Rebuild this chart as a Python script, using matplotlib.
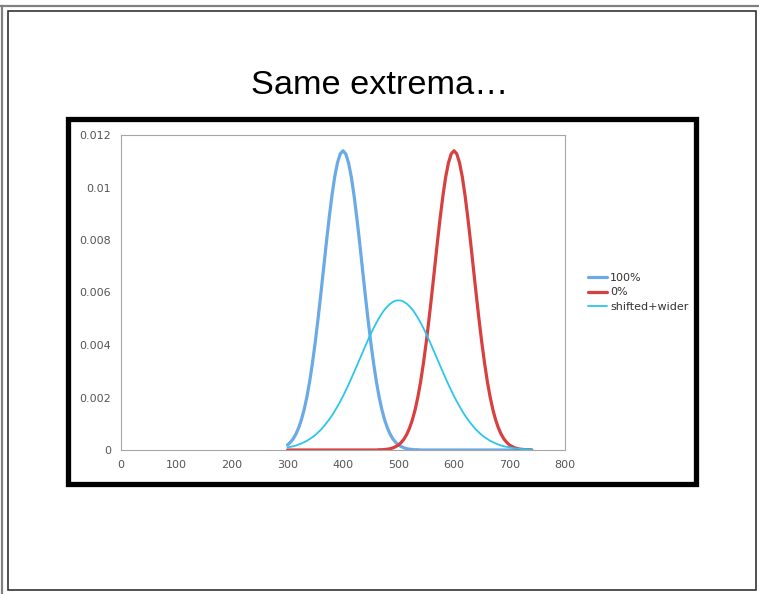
import matplotlib
matplotlib.use("Agg")
import matplotlib.pyplot as plt
from matplotlib.patches import Rectangle
from matplotlib.lines import Line2D

plt.rcParams['font.family'] = ['DejaVu Sans']

# ---- data ----
x_vals = list(range(300, 745, 5))

series_100 = [0.00019, 0.00029, 0.00042, 0.00060, 0.00084, 0.00115, 0.00154, 0.00203,
              0.00262, 0.00332, 0.00411, 0.00499, 0.00593, 0.00691, 0.00790, 0.00883,
              0.00968, 0.01040, 0.01094, 0.01128, 0.01140, 0.01128, 0.01094, 0.01040,
              0.00968, 0.00883, 0.00790, 0.00691, 0.00593, 0.00499, 0.00411, 0.00332,
              0.00262, 0.00203, 0.00154, 0.00115, 0.00084, 0.00060, 0.00042, 0.00029,
              0.00019, 0.00013, 0.00008, 0.00005, 0.00003, 0.00002, 0.00001, 0.00001,
              0.0, 0.0, 0.0, 0.0, 0.0, 0.0, 0.0, 0.0, 0.0, 0.0, 0.0, 0.0, 0.0, 0.0,
              0.0, 0.0, 0.0, 0.0, 0.0, 0.0, 0.0, 0.0, 0.0, 0.0, 0.0, 0.0, 0.0, 0.0,
              0.0, 0.0, 0.0, 0.0, 0.0, 0.0, 0.0, 0.0, 0.0, 0.0, 0.0, 0.0, 0.0]

series_0 = [0.0, 0.0, 0.0, 0.0, 0.0, 0.0, 0.0, 0.0, 0.0, 0.0, 0.0, 0.0, 0.0, 0.0,
            0.0, 0.0, 0.0, 0.0, 0.0, 0.0, 0.0, 0.0, 0.0, 0.0, 0.0, 0.0, 0.0, 0.0,
            0.0, 0.0, 0.0, 0.0, 0.0,
            0.00001, 0.00001, 0.00002, 0.00003, 0.00005, 0.00008, 0.00013, 0.00019,
            0.00029, 0.00042, 0.00060, 0.00084, 0.00115, 0.00154, 0.00203, 0.00262,
            0.00332, 0.00411, 0.00499, 0.00593, 0.00691, 0.00790, 0.00883, 0.00968,
            0.01040, 0.01094, 0.01128, 0.01140, 0.01128, 0.01094, 0.01040, 0.00968,
            0.00883, 0.00790, 0.00691, 0.00593, 0.00499, 0.00411, 0.00332, 0.00262,
            0.00203, 0.00154, 0.00115, 0.00084, 0.00060, 0.00042, 0.00029, 0.00019,
            0.00013, 0.00008, 0.00005, 0.00003, 0.00002, 0.00001, 0.00001, 0.0]

series_shift = [0.00010, 0.00012, 0.00014, 0.00017, 0.00021, 0.00025, 0.00030, 0.00035,
                0.00042, 0.00049, 0.00057, 0.00067, 0.00077, 0.00089, 0.00102, 0.00116,
                0.00131, 0.00148, 0.00166, 0.00185, 0.00205, 0.00227, 0.00249, 0.00273,
                0.00297, 0.00321, 0.00346, 0.00370, 0.00395, 0.00419, 0.00442, 0.00464,
                0.00484, 0.00503, 0.00520, 0.00535, 0.00547, 0.00557, 0.00564, 0.00569,
                0.00570, 0.00569, 0.00564, 0.00557, 0.00547, 0.00535, 0.00520, 0.00503,
                0.00484, 0.00464, 0.00442, 0.00419, 0.00395, 0.00370, 0.00346, 0.00321,
                0.00297, 0.00273, 0.00249, 0.00227, 0.00205, 0.00185, 0.00166, 0.00148,
                0.00131, 0.00116, 0.00102, 0.00089, 0.00077, 0.00067, 0.00057, 0.00049,
                0.00042, 0.00035, 0.00030, 0.00025, 0.00021, 0.00017, 0.00014, 0.00012,
                0.00010, 0.00008, 0.00006, 0.00005, 0.00004, 0.00003, 0.00003, 0.00002,
                0.00002]

labels = ["100%", "0%", "shifted+wider"]
x_ticks = [0, 100, 200, 300, 400, 500, 600, 700, 800]
y_ticks = [0, 0.002, 0.004, 0.006, 0.008, 0.01, 0.012]
y_tick_labels = ["0", "0.002", "0.004", "0.006", "0.008", "0.01", "0.012"]
title = "Same extrema\u2026"

W, H = 759, 594
fig = plt.figure(figsize=(W / 100, H / 100), dpi=100)
fig.patch.set_facecolor("white")

def fx(px):
    return px / W

def fy(py):
    return 1 - py / H

# slide borders
fig.add_artist(Line2D([fx(0), fx(759)], [fy(5.5), fy(5.5)], color="#808080", lw=1.6,
                      transform=fig.transFigure))
fig.add_artist(Line2D([fx(1.5), fx(1.5)], [fy(5.5), fy(594)], color="#808080", lw=1.6,
                      transform=fig.transFigure))
fig.add_artist(Rectangle((fx(7.5), fy(589.5)), fx(756.5) - fx(7.5), fy(10.5) - fy(589.5),
                         transform=fig.transFigure, fill=False, edgecolor="#222222", lw=1.1))

# title
fig.text(fx(380), fy(85), title, ha="center", va="center", fontsize=24.7,
         family="Liberation Sans", color="black")

# black chart box
fig.add_artist(Rectangle((fx(67.5), fy(483.5)), fx(695.5) - fx(67.5), fy(118.5) - fy(483.5),
                         transform=fig.transFigure, fill=False, edgecolor="black", lw=3.8))

ax = fig.add_axes([fx(121), fy(450), fx(565) - fx(121), fy(135) - fy(450)])
ax.plot(x_vals, series_100, color="#6aaae6", lw=2.3, label=labels[0], solid_capstyle="round")
ax.plot(x_vals, series_0, color="#d8403f", lw=2.3, label=labels[1], solid_capstyle="round")
ax.plot(x_vals, series_shift, color="#2cc6ec", lw=1.3, label=labels[2], solid_capstyle="round")

ax.set_xlim(0, 800)
ax.set_ylim(0, 0.012)
ax.set_xticks(x_ticks)
ax.set_xticklabels([str(t) for t in x_ticks])
ax.set_yticks(y_ticks)
ax.set_yticklabels(y_tick_labels)
for s in ax.spines.values():
    s.set_color("#a6a6a6")
    s.set_linewidth(0.8)
ax.tick_params(axis="both", length=0, labelsize=8, labelcolor="#555555")
ax.tick_params(axis="x", pad=7)
ax.tick_params(axis="y", pad=7)

leg = fig.legend(loc="upper left", bbox_to_anchor=(fx(588), fy(273)), frameon=False,
                 fontsize=8, handlelength=1.75, handletextpad=0.25, labelspacing=0.4,
                 borderaxespad=0, borderpad=0)
for t in leg.get_texts():
    t.set_color("#333333")

fig.savefig("out.png", dpi=100)
